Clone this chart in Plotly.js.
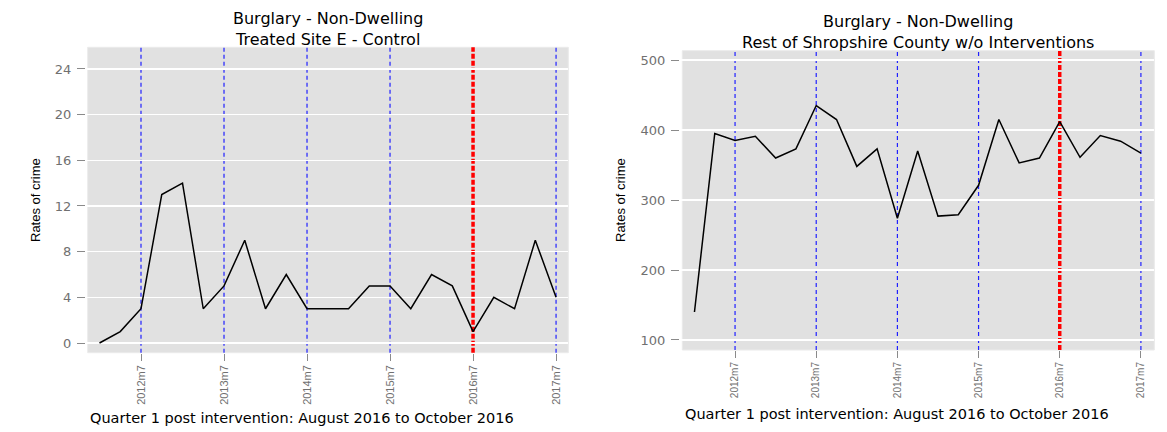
<!DOCTYPE html>
<html>
<head>
<meta charset="utf-8">
<script src="https://cdn.plot.ly/plotly-3.0.1.min.js"></script>
<style>
  html, body { margin: 0; padding: 0; background: #ffffff; }
  #chart { width: 1167px; height: 432px; }
</style>
</head>
<body>
<div id="chart"></div>
<script>
// ---------- data ----------
const quarters = ['2012m1','2012m4','2012m7','2012m10','2013m1','2013m4','2013m7','2013m10',
                  '2014m1','2014m4','2014m7','2014m10','2015m1','2015m4','2015m7','2015m10',
                  '2016m1','2016m4','2016m7','2016m10','2017m1','2017m4','2017m7'];
const siteE = [0, 1, 3, 13, 14, 3, 5, 9, 3, 6, 3, 3, 3, 5, 5, 3, 6, 5, 1, 4, 3, 9, 4];
const restShropshire = [140, 395, 385, 391, 360, 373, 435, 415, 348, 373, 274, 370,
                        277, 279, 321, 415, 353, 360, 412, 361, 392, 384, 367];
const tickLabels = ['2012m7','2013m7','2014m7','2015m7','2016m7','2017m7'];
const yearMarkers = ['2012m7','2013m7','2014m7','2015m7','2017m7'];
const interventionQuarter = '2016m7';
const leftYTicks = [0, 4, 8, 12, 16, 20, 24];
const rightYTicks = [100, 200, 300, 400, 500];
const leftTitle = ['Burglary - Non-Dwelling', 'Treated Site E - Control'];
const rightTitle = ['Burglary - Non-Dwelling', 'Rest of Shropshire County w/o Interventions'];
const yTitle = 'Rates of crime';
const caption = 'Quarter 1 post intervention: August 2016 to October 2016';

// ---------- helpers ----------
const W = 1167, H = 432;
const px = x => x / W;
const py = y => 1 - y / H;
const GREY = '#e1e1e1';
const TICKGREY = '#707070';
const TITLEFONT = 'DejaVu Sans, Verdana, sans-serif';
const NARROWFONT = 'Liberation Sans, Arial, sans-serif';

const traces = [
  { x: quarters, y: siteE, xaxis: 'x', yaxis: 'y', type: 'scatter', mode: 'lines',
    line: { color: '#000000', width: 1.5 }, hoverinfo: 'x+y' },
  { x: quarters, y: restShropshire, xaxis: 'x2', yaxis: 'y2', type: 'scatter', mode: 'lines',
    line: { color: '#000000', width: 1.5 }, hoverinfo: 'x+y' }
];

function xAxis(domain, range, fontSize, anchor) {
  return {
    type: 'category', domain: domain, range: range, anchor: anchor,
    categoryorder: 'array', categoryarray: quarters,
    tickmode: 'array', tickvals: tickLabels, ticktext: tickLabels,
    tickangle: -90, ticks: 'outside', ticklen: 7, tickwidth: 1, tickcolor: '#8a8a8a',
    tickfont: { family: NARROWFONT, size: fontSize, color: TICKGREY },
    showgrid: false, zeroline: false, showline: false, automargin: false, fixedrange: true
  };
}
function yAxis(domain, range, ticks, anchor) {
  return {
    domain: domain, range: range, anchor: anchor,
    tickmode: 'array', tickvals: ticks, ticktext: ticks.map(String),
    ticks: 'outside', ticklen: 8, tickwidth: 1, tickcolor: '#8a8a8a',
    ticklabelstandoff: 3,
    tickfont: { family: TITLEFONT, size: 13, color: TICKGREY },
    showgrid: true, gridcolor: '#ffffff', gridwidth: 1.2,
    zeroline: false, showline: false, automargin: false, fixedrange: true
  };
}

const shapes = [];
function panelShapes(xr, yr, gapFrac) {
  shapes.push({ type: 'rect', xref: xr + ' domain', yref: yr + ' domain',
    x0: gapFrac, x1: 1, y0: 0, y1: 1, fillcolor: GREY,
    line: { color: '#eaeaea', width: 1 }, layer: 'below' });
  yearMarkers.forEach(q => shapes.push({ type: 'line', xref: xr, yref: yr + ' domain',
    x0: q, x1: q, y0: 0, y1: 1, layer: 'below',
    line: { color: '#2020ff', width: 1.2, dash: '4px,3px' } }));
  shapes.push({ type: 'line', xref: xr, yref: yr + ' domain',
    x0: interventionQuarter, x1: interventionQuarter, y0: 0, y1: 1, layer: 'below',
    line: { color: '#ff0000', width: 3.5, dash: '5px,2px' } });
}
panelShapes('x', 'y', 1.7 / 482.3);
panelShapes('x2', 'y2', 2.3 / 474.3);

const annotations = [];
function ann(text, x, y, opts) {
  annotations.push(Object.assign({ text: text, xref: 'paper', yref: 'paper',
    x: px(x), y: py(y), showarrow: false, xanchor: 'center', yanchor: 'middle',
    borderpad: 0, borderwidth: 0,
    font: { family: TITLEFONT, size: 16, color: '#000000' } }, opts || {}));
}
// titles (two lines each)
ann(leftTitle.join('<br>'), 328, 29);
ann(rightTitle.join('<br>'), 918, 32);
// y titles
ann(yTitle, 35, 200, { textangle: -90, font: { family: NARROWFONT, size: 13, color: '#000000' } });
ann(yTitle, 620, 200, { textangle: -90, font: { family: NARROWFONT, size: 13, color: '#000000' } });
// captions
ann(caption, 90, 418, { xanchor: 'left', font: { family: TITLEFONT, size: 14.5, color: '#000000' } });
ann(caption, 685, 414, { xanchor: 'left', font: { family: TITLEFONT, size: 14.5, color: '#000000' } });

const layout = {
  width: W, height: H,
  margin: { l: 0, r: 0, t: 0, b: 0, pad: 0 },
  paper_bgcolor: '#ffffff', plot_bgcolor: 'rgba(0,0,0,0)',
  showlegend: false,
  xaxis: xAxis([px(86), px(568.3)], [-0.65, 22.59], 11, 'y'),
  yaxis: yAxis([py(352.7), py(47.3)], [-0.85, 25.9], leftYTicks, 'x'),
  xaxis2: xAxis([px(680), px(1154.3)], [-0.713, 22.66], 10, 'y2'),
  yaxis2: yAxis([py(350), py(50.7)], [85.7, 513.3], rightYTicks, 'x2'),
  shapes: shapes,
  annotations: annotations
};

Plotly.newPlot('chart', traces, layout, { displayModeBar: false, staticPlot: true });
</script>
</body>
</html>
